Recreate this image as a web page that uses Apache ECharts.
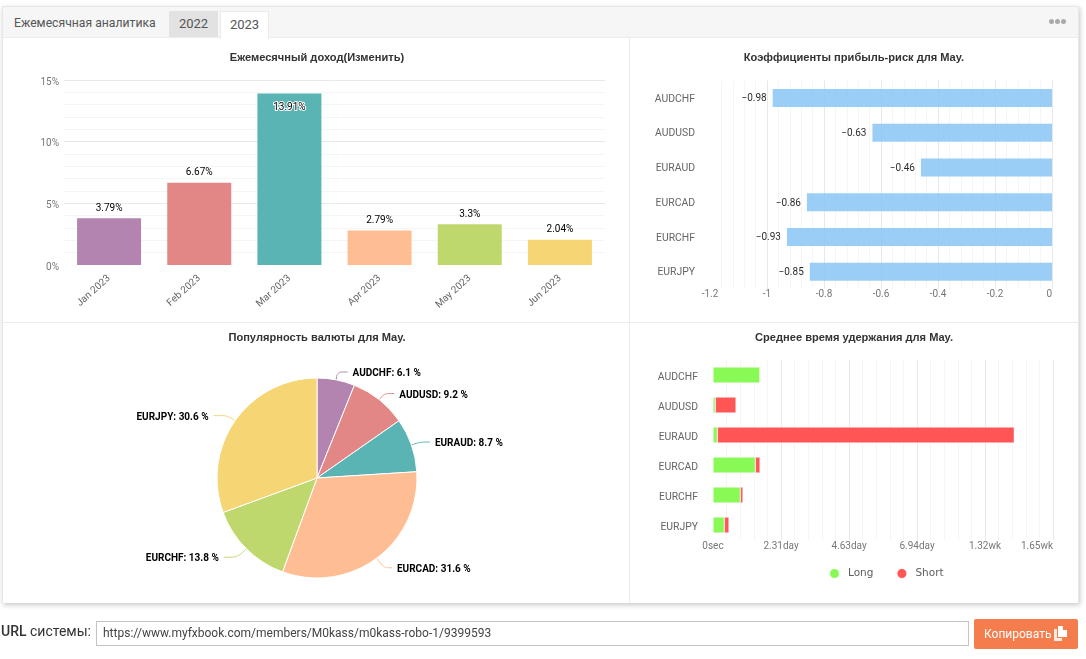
<!DOCTYPE html>
<html lang="ru">
<head>
<meta charset="utf-8">
<title>Ежемесячная аналитика</title>
<script src="https://cdn.jsdelivr.net/npm/echarts@6/dist/echarts.min.js"></script>
<style>
  html, body { margin: 0; padding: 0; background: #fff; width: 1086px; height: 659px; overflow: hidden; font-family: Roboto, sans-serif; }
  #panel { position: absolute; left: 2px; top: 6px; width: 1075px; height: 596px; border: 1px solid #e7e7e7; border-bottom: 0; box-shadow: 1px 2px 5px rgba(0,0,0,.22); background: #fff; }
  #head { position: absolute; left: 0; top: 0; right: 0; height: 30px; background: #f6f6f6; border-bottom: 1px solid #ececec; }
  .tab { position: absolute; top: 4px; height: 27px; line-height: 25px; text-align: center; font-size: 13px; color: #555; box-sizing: border-box; white-space: nowrap; }
  #caption { left: 11px; width: 145px; top: 4px; text-align: left; font-size: 12.2px; }
  #t22 { left: 166px; width: 49px; background: #e2e2e2; height: 26px; }
  #t23 { left: 217px; width: 49px; background: #fff; border: 1px solid #ececec; border-bottom: 0; height: 28px; }
  #dots { position: absolute; left: 1046px; top: 12px; display: flex; gap: 1px; }
  #dots i { width: 5px; height: 5px; border-radius: 50%; background: #aaa; display: block; }
  #vline { position: absolute; left: 629px; top: 38px; width: 1px; height: 565px; background: #ececec; }
  #hline { position: absolute; left: 3px; top: 322px; width: 1075px; height: 1px; background: #ececec; }
  #chart { position: absolute; left: 0; top: 0; width: 1086px; height: 659px; }
  #urlLabel { position: absolute; left: 1px; top: 622px; font-size: 14px; color: #333; line-height: 18px; }
  #urlLabel b { font-weight: 500; }
  #url { position: absolute; left: 96px; top: 621px; width: 873px; height: 25px; box-sizing: border-box; border: 1px solid #c4c4c4; font-size: 12px; line-height: 23px; padding-left: 6px; color: #444; }
  #copy { position: absolute; left: 974px; top: 619px; width: 104px; height: 30px; background: #f47c4d; border-radius: 2px; color: #fff; font-size: 12px; line-height: 30px; padding-left: 10px; box-sizing: border-box; }
  #copy svg { position: absolute; left: 80px; top: 7px; }
</style>
</head>
<body>
<div id="panel">
  <div id="head">
    <div class="tab" id="caption">Ежемесячная аналитика</div>
    <div class="tab" id="t22">2022</div>
    <div class="tab" id="t23">2023</div>
    <div id="dots"><i></i><i></i><i></i></div>
  </div>
</div>
<div id="vline"></div>
<div id="hline"></div>
<div id="chart"></div>
<div id="urlLabel"><b>URL</b> системы:</div>
<div id="url">https://www.myfxbook.com/members/M0kass/m0kass-robo-1/9399593</div>
<div id="copy">Копировать
  <svg width="13" height="15" viewBox="0 0 13 15"><path d="M0 3h3v9h5v3H0z" fill="#fff" opacity=".85"/><path d="M4 0h5v4h4v7H4z" fill="#fff"/></svg>
</div>
<script>
// Monthly gain
const months = ['Jan 2023', 'Feb 2023', 'Mar 2023', 'Apr 2023', 'May 2023', 'Jun 2023'];
const monthlyGain = [3.79, 6.67, 13.91, 2.79, 3.3, 2.04];
const palette = ['#b384b0', '#e28686', '#5ab4b4', '#ffbd93', '#bed86d', '#f5d574'];

// Per-symbol figures for May
const symbols = ['AUDCHF', 'AUDUSD', 'EURAUD', 'EURCAD', 'EURCHF', 'EURJPY'];
const profitRisk = [-0.98, -0.63, -0.46, -0.86, -0.93, -0.85];
const popularity = [6.1, 9.2, 8.7, 31.6, 13.8, 30.6];
const longSeconds = [138400, 6800, 12800, 124600, 80500, 33400];
const shortSeconds = [0, 60900, 873300, 13800, 7800, 13700];
const durationTicks = { 0: '0sec', 200000: '2.31day', 400000: '4.63day', 600000: '6.94day', 800000: '1.32wk', 1000000: '1.65wk' };

// Leader segments of each pie label
const leaderLengths = [8, 8, 9, 12, 12, 9];
const leaderTails = [10, 10, 10, 8, 14, 14];

const FONT = 'Roboto, sans-serif';
const TITLE_FONT = '"Liberation Sans", Arial, sans-serif';
const MAJOR = '#e8e8e8', MINOR = '#f5f5f5', TICK = '#777', CAT = '#666';
const LABEL_SIZE = 10;

const hiddenLine = { show: false };
const gridLines = {
  splitLine: { show: true, showMinLine: false, lineStyle: { color: MAJOR, width: 1 } },
  minorSplitLine: { show: true, lineStyle: { color: MINOR, width: 1 } },
  minorTick: { show: false, splitNumber: 5 },
  axisLine: hiddenLine,
  axisTick: hiddenLine
};
const title = (text, left, top) => ({
  text, left, top, padding: 0, textAlign: 'center',
  textStyle: { fontFamily: TITLE_FONT, fontSize: 11.1, fontWeight: 'bold', color: '#333' }
});
const peak = Math.max(...monthlyGain);

const chart = echarts.init(document.getElementById('chart'), null, { renderer: 'canvas' });
chart.setOption({
  animation: false,
  backgroundColor: 'transparent',
  textStyle: { fontFamily: FONT },
  title: [
    title('Ежемесячный доход(Изменить)', 317, 52),
    title('Коэффициенты прибыль-риск для May.', 854, 52),
    title('Популярность валюты для May.', 317, 332),
    title('Среднее время удержания для May.', 854, 332)
  ],
  grid: [
    { left: 64, top: 80, width: 541, height: 185 },
    { left: 710, top: 80.6, width: 342, height: 208.4 },
    { left: 713, top: 360, width: 340, height: 180 }
  ],
  legend: {
    data: ['Long', 'Short'],
    left: 828, top: 567, padding: 0,
    icon: 'circle', itemWidth: 11, itemHeight: 11, itemGap: 22,
    textStyle: { fontFamily: '"DejaVu Sans", sans-serif', fontSize: 10.5, color: '#5f5f5f', padding: [3, 0, 0, 3] }
  },
  xAxis: [
    {
      gridIndex: 0, type: 'category', data: months,
      axisLine: hiddenLine, axisTick: hiddenLine,
      axisLabel: { rotate: 42, fontFamily: FONT, fontSize: LABEL_SIZE, color: CAT, margin: 12, interval: 0 }
    },
    {
      gridIndex: 1, type: 'value', min: -1.2, max: 0, interval: 0.2, ...gridLines,
      axisLabel: { fontFamily: FONT, fontSize: LABEL_SIZE, color: TICK, margin: 0, alignMaxLabel: 'right', showMaxLabel: true, showMinLabel: true }
    },
    {
      gridIndex: 2, type: 'value', min: 0, max: 1000000, interval: 200000, ...gridLines,
      axisLabel: { fontFamily: FONT, fontSize: LABEL_SIZE, color: TICK, margin: 1, alignMaxLabel: 'right', showMaxLabel: true, showMinLabel: true, formatter: v => durationTicks[v] }
    }
  ],
  yAxis: [
    {
      gridIndex: 0, type: 'value', min: 0, max: 15, interval: 5, ...gridLines,
      axisLabel: { formatter: '{value}%', fontFamily: FONT, fontSize: LABEL_SIZE, color: TICK, margin: 5, verticalAlign: 'top', lineHeight: 4.4 }
    },
    {
      gridIndex: 1, type: 'category', data: symbols, inverse: true,
      axisLine: hiddenLine, axisTick: hiddenLine,
      axisLabel: { fontFamily: FONT, fontSize: 10.4, color: CAT, margin: 15, interval: 0, verticalAlign: 'top', lineHeight: 2.4 }
    },
    {
      gridIndex: 2, type: 'category', data: symbols, inverse: true,
      axisLine: hiddenLine, axisTick: hiddenLine,
      axisLabel: { fontFamily: FONT, fontSize: 10.4, color: CAT, margin: 15, interval: 0, verticalAlign: 'top', lineHeight: 5 }
    }
  ],
  series: [
    {
      type: 'bar', xAxisIndex: 0, yAxisIndex: 0, barWidth: 64,
      data: monthlyGain.map((v, i) => ({
        value: v,
        itemStyle: { color: palette[i] },
        label: v === peak
          ? { position: 'insideTop', distance: 9, textBorderColor: '#fff', textBorderWidth: 2 }
          : { position: 'top', distance: 5 }
      })),
      label: { show: true, formatter: '{c}%', fontFamily: FONT, fontSize: LABEL_SIZE, color: '#000' }
    },
    {
      type: 'bar', xAxisIndex: 1, yAxisIndex: 1, barWidth: 18,
      data: profitRisk,
      itemStyle: { color: '#8ac6f5', opacity: 0.85 },
      label: {
        show: true, position: 'left', distance: 6, offset: [0, 1], fontFamily: FONT, fontSize: LABEL_SIZE, color: '#000',
        formatter: p => '\u2212' + Math.abs(p.value)
      }
    },
    {
      name: 'Long', type: 'bar', xAxisIndex: 2, yAxisIndex: 2, stack: 'hold', barWidth: 16,
      data: longSeconds,
      itemStyle: { color: '#7ff947', opacity: 0.92, borderColor: '#fff', borderWidth: 0.5 }
    },
    {
      name: 'Short', type: 'bar', xAxisIndex: 2, yAxisIndex: 2, stack: 'hold', barWidth: 16,
      data: shortSeconds,
      itemStyle: { color: '#ff4646', opacity: 0.92, borderColor: '#fff', borderWidth: 0.5 }
    },
    {
      type: 'pie', center: [317, 478], radius: [0, 100], startAngle: 90, clockwise: true,
      data: symbols.map((s, i) => ({
        name: s, value: popularity[i],
        itemStyle: { color: palette[i] },
        labelLine: { length: leaderLengths[i], length2: leaderTails[i] }
      })),
      itemStyle: { borderColor: '#fff', borderWidth: 1 },
      label: { formatter: p => p.name + ': ' + p.value + ' %', fontFamily: FONT, fontSize: LABEL_SIZE, fontWeight: 'bold', color: '#000', distanceToLabelLine: 5 },
      labelLayout: { dy: 1.5 },
      labelLine: { smooth: true, lineStyle: { width: 1 } }
    }
  ]
});
</script>
</body>
</html>
